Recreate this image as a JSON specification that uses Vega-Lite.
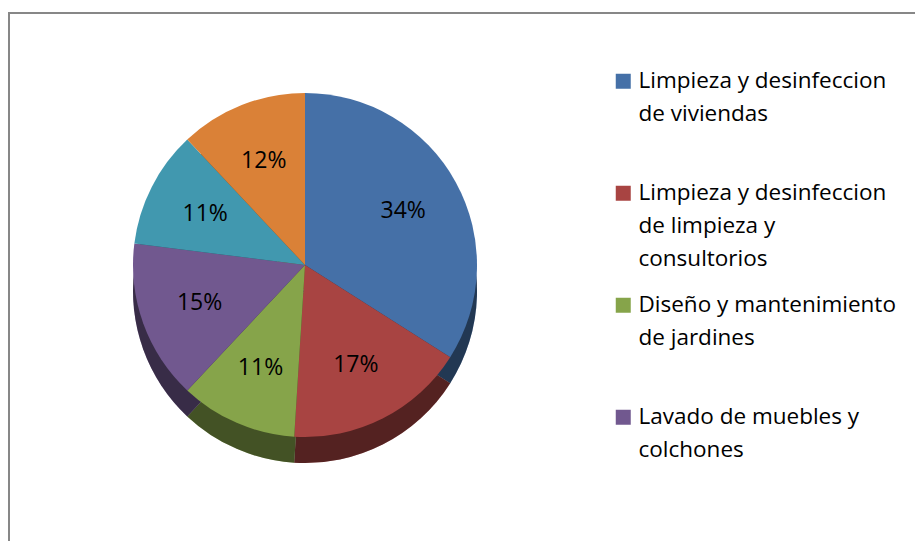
{
  "$schema": "https://vega.github.io/schema/vega-lite/v6.json",
  "autosize": "none",
  "width": 920,
  "height": 540,
  "padding": {"left": 9, "top": 13, "right": 0, "bottom": 0},
  "background": "white",
  "data": {
    "values": [
      {"categoria": "Limpieza y desinfeccion de viviendas", "valor": 34, "etiqueta": "34%", "orden": 1},
      {"categoria": "Limpieza y desinfeccion de limpieza y consultorios", "valor": 17, "etiqueta": "17%", "orden": 2},
      {"categoria": "Diseño y mantenimiento de jardines", "valor": 11, "etiqueta": "11%", "orden": 3},
      {"categoria": "Lavado de muebles y colchones", "valor": 15, "etiqueta": "15%", "orden": 4},
      {"categoria": "Categoría 5", "valor": 11, "etiqueta": "11%", "orden": 5},
      {"categoria": "Categoría 6", "valor": 12, "etiqueta": "12%", "orden": 6}
    ]
  },
  "encoding": {
    "theta": {"field": "valor", "type": "quantitative", "stack": true},
    "order": {"field": "orden", "type": "quantitative"},
    "x": {"value": 296},
    "y": {"value": 252}
  },
  "layer": [
    {
      "mark": {"type": "arc", "outerRadius": 172, "yOffset": 26},
      "encoding": {
        "color": {
          "field": "categoria",
          "type": "nominal",
          "sort": null,
          "scale": {
            "domain": ["Limpieza y desinfeccion de viviendas", "Limpieza y desinfeccion de limpieza y consultorios", "Diseño y mantenimiento de jardines", "Lavado de muebles y colchones", "Categoría 5", "Categoría 6"],
            "range": ["#4570a7", "#a84442", "#86a44a", "#71588f", "#4198af", "#da8137"]
          },
          "legend": {
            "orient": "none",
            "legendX": 603,
            "legendY": 57,
            "title": null,
            "values": ["Limpieza y desinfeccion de viviendas", "Limpieza y desinfeccion de limpieza y consultorios", "Diseño y mantenimiento de jardines", "Lavado de muebles y colchones"],
            "symbolType": "square",
            "symbolSize": 225,
            "symbolStrokeWidth": 0,
            "labelFont": "Open Sans",
            "labelFontSize": 22.5,
            "labelColor": "#000000",
            "labelLimit": 0,
            "labelOffset": 4,
            "labelBaseline": "middle",
            "rowPadding": 23,
            "labelExpr": "datum.label == 'Limpieza y desinfeccion de viviendas' ? ['Limpieza y desinfeccion', 'de viviendas', ' '] : datum.label == 'Limpieza y desinfeccion de limpieza y consultorios' ? ['Limpieza y desinfeccion', 'de limpieza y', 'consultorios'] : datum.label == 'Diseño y mantenimiento de jardines' ? ['Diseño y mantenimiento', 'de jardines', ' '] : ['Lavado de muebles y', 'colchones']"
          }
        }
      }
    },
    {
      "mark": {"type": "arc", "outerRadius": 172, "yOffset": 26, "fill": "#000000", "opacity": 0.5},
      "encoding": {"detail": {"field": "categoria", "type": "nominal"}}
    },
    {
      "mark": {"type": "arc", "outerRadius": 172},
      "encoding": {
        "color": {"field": "categoria", "type": "nominal", "sort": null}
      }
    },
    {
      "mark": {"type": "text", "radius": 112, "font": "Open Sans", "fontSize": 23, "fill": "#000000"},
      "encoding": {
        "detail": {"field": "categoria", "type": "nominal"},
        "text": {"field": "etiqueta", "type": "nominal"}
      }
    }
  ],
  "config": {
    "view": {"stroke": "#878787", "strokeWidth": 2},
    "style": {"guide-label": {"lineHeight": 33}}
  }
}
